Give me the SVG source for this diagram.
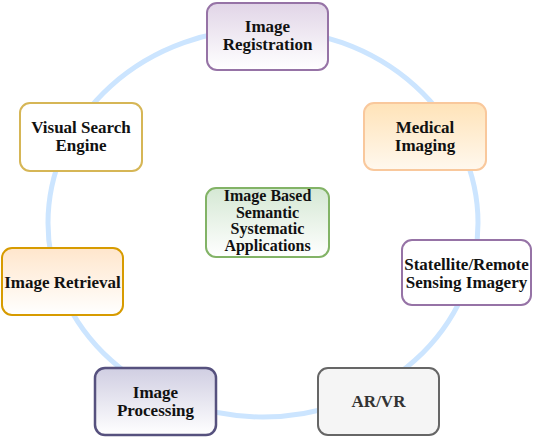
<svg xmlns="http://www.w3.org/2000/svg" width="535" height="439" viewBox="0 0 535 439">
<defs>
<linearGradient id="gPurple" x1="0" y1="0" x2="0" y2="1"><stop offset="0" stop-color="#e1d5e7"/><stop offset="1" stop-color="#ffffff"/></linearGradient>
<linearGradient id="gPeach" x1="0" y1="0" x2="0" y2="1"><stop offset="0" stop-color="#ffe3b8"/><stop offset="1" stop-color="#fff8ee"/></linearGradient>
<linearGradient id="gOrange" x1="0" y1="0" x2="0" y2="1"><stop offset="0" stop-color="#ffe6cc"/><stop offset="1" stop-color="#ffffff"/></linearGradient>
<linearGradient id="gLav" x1="0" y1="0" x2="0" y2="1"><stop offset="0" stop-color="#d0cee2"/><stop offset="1" stop-color="#ffffff"/></linearGradient>
<linearGradient id="gGreen" x1="0" y1="0" x2="0" y2="1"><stop offset="0" stop-color="#d5e8d4"/><stop offset="1" stop-color="#ffffff"/></linearGradient>
</defs>
<style>
text{font-family:"Liberation Serif","Times New Roman",serif;font-weight:bold;font-size:17px;text-anchor:middle;fill:#111111}
rect{stroke-width:2}
</style>
<rect width="535" height="439" fill="#ffffff"/>
<g id="connectors">
<ellipse cx="263" cy="223" rx="215" ry="194" fill="none" stroke="#cce5ff" stroke-width="5"/>
</g>
<g id="image-registration">
<rect x="207" y="3" width="121" height="67" rx="10" fill="url(#gPurple)" stroke="#9673a6"/>
<text x="267.5" y="31.5">Image<tspan x="267.5" dy="18">Registration</tspan></text>
</g>
<g id="medical-imaging">
<rect x="364" y="103" width="122" height="67" rx="10" fill="url(#gPeach)" stroke="#f9c89c"/>
<text x="425" y="132.5">Medical<tspan x="425" dy="18">Imaging</tspan></text>
</g>
<g id="satellite">
<rect x="402" y="240" width="129" height="65" rx="10" fill="#ffffff" stroke="#9673a6"/>
<text x="466.5" y="269.5">Statellite/Remote<tspan x="466.5" dy="18">Sensing Imagery</tspan></text>
</g>
<g id="ar-vr">
<rect x="318" y="368" width="121" height="67" rx="10" fill="#f5f5f5" stroke="#666666"/>
<text x="378.5" y="407" style="fill:#333333">AR/VR</text>
</g>
<g id="image-processing">
<rect x="95" y="368" width="121" height="67" rx="10" fill="url(#gLav)" stroke="#56517e" style="stroke-width:2.5"/>
<text x="155.5" y="397.5">Image<tspan x="155.5" dy="18">Processing</tspan></text>
</g>
<g id="image-retrieval">
<rect x="2" y="248" width="121" height="67" rx="10" fill="url(#gOrange)" stroke="#d79b00"/>
<text x="62.5" y="288">Image Retrieval</text>
</g>
<g id="visual-search">
<rect x="20" y="103" width="122" height="68" rx="10" fill="#ffffff" stroke="#d6b656"/>
<text x="81" y="132.5">Visual Search<tspan x="81" dy="18">Engine</tspan></text>
</g>
<g id="center">
<rect x="206" y="188" width="123" height="69" rx="10" fill="url(#gGreen)" stroke="#82b366"/>
<text x="267.5" y="201" style="font-size:16px">Image Based<tspan x="267.5" dy="16.5">Semantic</tspan><tspan x="267.5" dy="16.5">Systematic</tspan><tspan x="267.5" dy="16.5">Applications</tspan></text>
</g>
</svg>
